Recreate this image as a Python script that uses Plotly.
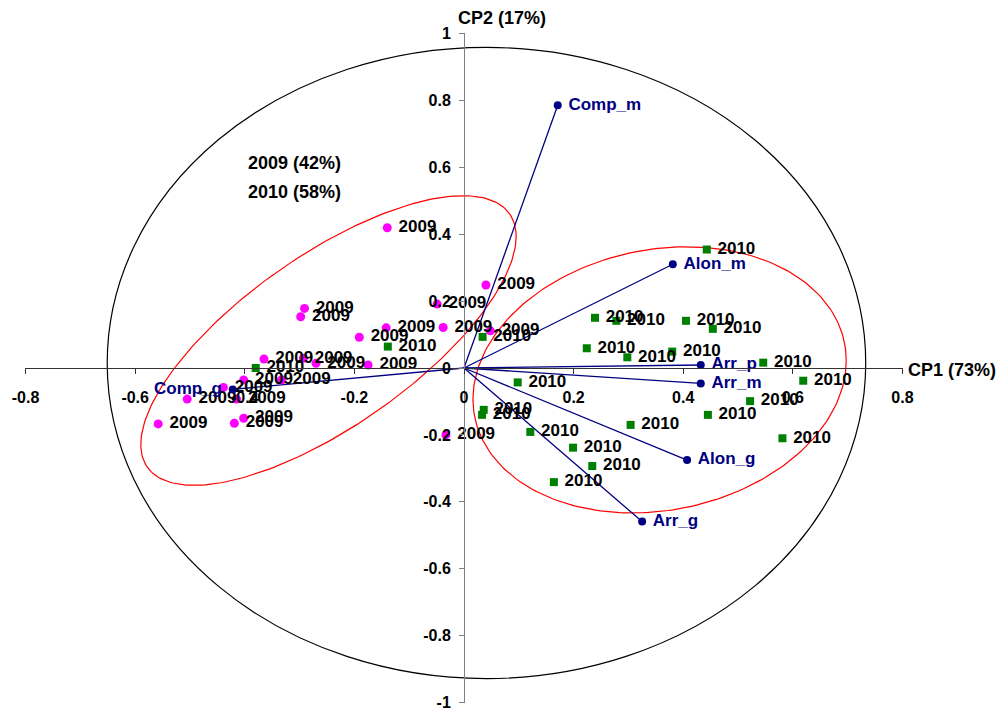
import numpy as np
import plotly.graph_objects as go

# Scores of the 2009 observations on CP1 / CP2
x_2009 = [-0.140, 0.040, -0.291, -0.298, -0.049, -0.142, -0.038, 0.048, -0.191,
          -0.365, -0.293, -0.270, -0.175, -0.333, -0.402, -0.439, -0.505, -0.415,
          -0.402, -0.419, -0.558, -0.033]
y_2009 = [0.419, 0.248, 0.178, 0.153, 0.191, 0.120, 0.121, 0.111, 0.092,
          0.027, 0.029, 0.014, 0.009, -0.036, -0.036, -0.058, -0.093, -0.093,
          -0.150, -0.165, -0.167, -0.200]

# Scores of the 2010 observations on CP1 / CP2
x_2010 = [-0.139, -0.380, 0.034, 0.443, 0.239, 0.278, 0.405, 0.454, 0.224, 0.298,
          0.380, 0.546, 0.098, 0.036, 0.033, 0.121, 0.199, 0.234, 0.164, 0.304,
          0.445, 0.522, 0.619, 0.581]
y_2010 = [0.064, 0.000, 0.093, 0.354, 0.150, 0.141, 0.141, 0.117, 0.059, 0.032,
          0.049, 0.016, -0.043, -0.125, -0.140, -0.191, -0.238, -0.293, -0.341, -0.170,
          -0.140, -0.099, -0.038, -0.210]

# Variable loadings
var_names = ["Comp_m", "Alon_m", "Arr_p", "Arr_m", "Alon_g", "Arr_g", "Comp_g"]
var_x = [0.171, 0.381, 0.432, 0.432, 0.407, 0.325, -0.422]
var_y = [0.785, 0.310, 0.009, -0.046, -0.275, -0.459, -0.064]

x_ticks = [-0.8, -0.6, -0.4, -0.2, 0, 0.2, 0.4, 0.6, 0.8]
x_tick_labels = ["-0.8", "-0.6", "-0.4", "-0.2", "0", "0.2", "0.4", "0.6", "0.8"]
y_ticks = [-1, -0.8, -0.6, -0.4, -0.2, 0, 0.2, 0.4, 0.6, 0.8, 1]
y_tick_labels = ["-1", "-0.8", "-0.6", "-0.4", "-0.2", "0", "0.2", "0.4", "0.6", "0.8", "1"]

axis_titles = ["CP1 (73%)", "CP2 (17%)"]
group_shares = ["2009 (42%)", "2010 (58%)"]

FONT = "Liberation Sans, Arial, sans-serif"
NAVY = "#000080"
W, H = 997, 709

# plot area in pixels
left_px, right_px, top_px, bottom_px = 25, 903, 33, 703
x_dom = [left_px / W, right_px / W]
y_dom = [(H - bottom_px) / H, (H - top_px) / H]
PAD = 0.001  # keeps the end ticks inside the range


def ellipse(cx, cy, ux, uy, vx, vy, n=240):
    t = np.linspace(0, 2 * np.pi, n)
    return cx + ux * np.cos(t) + vx * np.sin(t), cy + uy * np.cos(t) + vy * np.sin(t)


fig = go.Figure()

# group ellipses
ex1, ey1 = ellipse(-0.2473, 0.0821, 0.3424, 0.3104, 0.0, -0.3015)
ex2, ey2 = ellipse(0.3569, -0.0355, 0.3405, 0.0576, 0.0, -0.3934)
for ex, ey in [(ex1, ey1), (ex2, ey2)]:
    fig.add_trace(go.Scatter(x=ex, y=ey, mode="lines", line=dict(color="#ff0000", width=1.2),
                             hoverinfo="skip", showlegend=False))

# loading vectors from the origin
lx, ly = [], []
for vx, vy in zip(var_x, var_y):
    lx += [0, vx, None]
    ly += [0, vy, None]
fig.add_trace(go.Scatter(x=lx, y=ly, mode="lines", line=dict(color=NAVY, width=1.3),
                         hoverinfo="skip", showlegend=False))

label_font = dict(family=FONT, size=17, color="black", weight="bold")

fig.add_trace(go.Scatter(
    x=x_2009, y=y_2009, mode="markers+text", text=["\u00a02009"] * len(x_2009),
    textposition="middle right", textfont=label_font,
    marker=dict(symbol="circle", size=9, color="#ff00ff"),
    cliponaxis=False, showlegend=False))

fig.add_trace(go.Scatter(
    x=x_2010, y=y_2010, mode="markers+text", text=["\u00a02010"] * len(x_2010),
    textposition="middle right", textfont=label_font,
    marker=dict(symbol="square", size=8, color="#008000"),
    cliponaxis=False, showlegend=False))

fig.add_trace(go.Scatter(
    x=var_x, y=var_y, mode="markers+text",
    text=[n + "\u00a0" if n == "Comp_g" else "\u00a0" + n for n in var_names],
    textposition=["middle left" if n == "Comp_g" else "middle right" for n in var_names],
    textfont=dict(family=FONT, size=17, color=NAVY, weight="bold"),
    marker=dict(symbol="circle", size=8, color=NAVY),
    cliponaxis=False, showlegend=False))

# correlation circle
fig.add_shape(type="circle", xref="x", yref="y", x0=-0.651, x1=0.733, y0=-0.928, y1=0.958,
              line=dict(color="black", width=1.2), layer="below")

x_axis_pos = (y_dom[0] + y_dom[1]) / 2
y_axis_pos = (x_dom[0] + x_dom[1]) / 2
tick_font = dict(family=FONT, size=16, color="black", weight="bold")
title_font = dict(family=FONT, size=18, color="black", weight="bold")

fig.update_layout(
    width=W, height=H, margin=dict(l=0, r=0, t=0, b=0, autoexpand=False),
    paper_bgcolor="white", plot_bgcolor="white",
    xaxis=dict(domain=x_dom, range=[-0.8 - PAD, 0.8 + PAD], anchor="free", position=x_axis_pos,
               automargin=False, ticklabeloverflow="allow",
               showline=True, linecolor="#333333", linewidth=1, ticks="outside", ticklen=5,
               tickcolor="#333333", tickvals=x_ticks, ticktext=x_tick_labels,
               tickfont=tick_font, ticklabelstandoff=10,
               showgrid=False, zeroline=False),
    yaxis=dict(domain=y_dom, range=[-1 - PAD, 1 + PAD], anchor="free", position=y_axis_pos,
               automargin=False, ticklabeloverflow="allow",
               showline=True, linecolor="#808080", linewidth=1, ticks="outside", ticklen=5,
               tickcolor="#808080", tickvals=y_ticks, ticktext=y_tick_labels,
               tickfont=tick_font, ticklabelstandoff=5,
               showgrid=False, zeroline=False),
    annotations=[
        dict(text=axis_titles[0], xref="paper", yref="paper", x=906 / W, y=(H - 370) / H,
             xanchor="left", yanchor="middle", showarrow=False, font=title_font),
        dict(text=axis_titles[1], xref="paper", yref="paper", x=456 / W, y=(H - 18) / H,
             xanchor="left", yanchor="middle", showarrow=False, font=title_font),
        dict(text=group_shares[0], xref="x", yref="y", x=-0.397, y=0.612,
             xanchor="left", yanchor="middle", showarrow=False, font=title_font),
        dict(text=group_shares[1], xref="x", yref="y", x=-0.397, y=0.525,
             xanchor="left", yanchor="middle", showarrow=False, font=title_font),
    ],
)

fig.write_html("out.html")
